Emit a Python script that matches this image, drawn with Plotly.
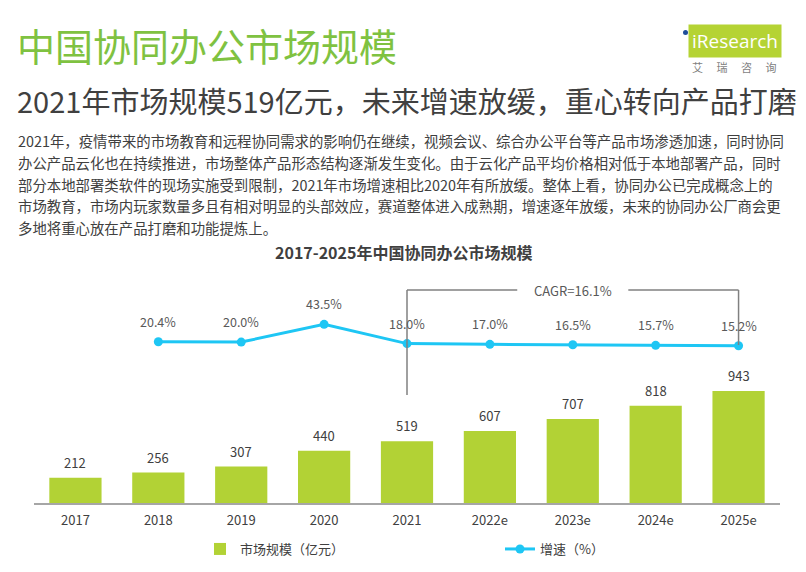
import plotly.graph_objects as go

# ---- data ----
years = ["2017", "2018", "2019", "2020", "2021", "2022e", "2023e", "2024e", "2025e"]
market_size = [212, 256, 307, 440, 519, 607, 707, 818, 943]          # 亿元
growth_years = ["2018", "2019", "2020", "2021", "2022e", "2023e", "2024e", "2025e"]
growth_rate = [20.4, 20.0, 43.5, 18.0, 17.0, 16.5, 15.7, 15.2]        # %
growth_labels = ["20.4%", "20.0%", "43.5%", "18.0%", "17.0%", "16.5%", "15.7%", "15.2%"]
cagr_text = "CAGR=16.1%"
cagr_from, cagr_to = "2021", "2025e"

title = "中国协同办公市场规模"
subtitle = "2021年市场规模519亿元，未来增速放缓，重心转向产品打磨"
body_lines = [
    "2021年，疫情带来的市场教育和远程协同需求的影响仍在继续，视频会议、综合办公平台等产品市场渗透加速，同时协同",
    "办公产品云化也在持续推进，市场整体产品形态结构逐渐发生变化。由于云化产品平均价格相对低于本地部署产品，同时",
    "部分本地部署类软件的现场实施受到限制，2021年市场增速相比2020年有所放缓。整体上看，协同办公已完成概念上的",
    "市场教育，市场内玩家数量多且有相对明显的头部效应，赛道整体进入成熟期，增速逐年放缓，未来的协同办公厂商会更",
    "多地将重心放在产品打磨和功能提炼上。",
]
chart_title = "2017-2025年中国协同办公市场规模"
bar_name = "市场规模（亿元）"
line_name = "增速（%）"

# ---- layout geometry (page has an 8px body margin) ----
OFF = 8
W, H = 806 - OFF, 572 - OFF
L, R, T, B = 34 - OFF, 780 - OFF, 260 - OFF, 503 - OFF
FONT = "Noto Sans CJK SC, Noto Sans, sans-serif"
BAR = "#b2d235"
LINE = "#1ec6f4"
DARK = "#404040"


def px(x):
    """screen x (reference pixels) -> paper fraction"""
    return (x - OFF - L) / (R - L)


def py(y):
    """screen y (reference pixels) -> paper fraction"""
    return (B - (y - OFF)) / (B - T)


fig = go.Figure()
fig.add_trace(go.Bar(
    x=years, y=market_size, name=bar_name, marker=dict(color=BAR, line=dict(width=0)),
    yaxis="y", cliponaxis=False,
))
fig.add_trace(go.Scatter(
    x=growth_years, y=growth_rate, name=line_name, mode="lines+markers",
    line=dict(color=LINE, width=3), marker=dict(color=LINE, size=9),
    yaxis="y2", cliponaxis=False,
))

annotations = []
# bar value labels (category index positions)
for yr, v in zip(years, market_size):
    annotations.append(dict(x=years.index(yr), y=v, xref="x", yref="y", text=str(v), showarrow=False,
                            xanchor="center", yanchor="bottom", yshift=4,
                            font=dict(size=13, color=DARK, family=FONT)))
# growth labels
for yr, v, t in zip(growth_years, growth_rate, growth_labels):
    annotations.append(dict(x=years.index(yr), y=v, xref="x", yref="y2", text=t, showarrow=False,
                            xanchor="center", yanchor="bottom", yshift=9,
                            font=dict(size=12.5, color="#595959", family=FONT)))

# CAGR bracket
i0, i1 = years.index(cagr_from), years.index(cagr_to)
imid = (i0 + i1) / 2
gap = 0.67
top_y = py(290)
shapes = [
    dict(type="line", xref="x", yref="paper", x0=i0, x1=i0, y0=py(395), y1=top_y,
         line=dict(color="#808080", width=1.5)),
    dict(type="line", xref="x", yref="paper", x0=i1, x1=i1, y0=py(345), y1=top_y,
         line=dict(color="#808080", width=1.5)),
    dict(type="line", xref="x", yref="paper", x0=i0, x1=imid - gap, y0=top_y, y1=top_y,
         line=dict(color="#808080", width=1.5)),
    dict(type="line", xref="x", yref="paper", x0=imid + gap, x1=i1, y0=top_y, y1=top_y,
         line=dict(color="#808080", width=1.5)),
]
annotations.append(dict(x=imid, y=top_y, xref="x", yref="paper", text=cagr_text, showarrow=False,
                        xanchor="center", yanchor="middle",
                        font=dict(size=13, color="#595959", family=FONT)))

# header texts
annotations.append(dict(x=px(15), y=py(45), xref="paper", yref="paper", text=title, showarrow=False,
                        xanchor="left", yanchor="middle", font=dict(size=38, color="#7fc241", family=FONT)))
annotations.append(dict(x=px(15), y=py(100), xref="paper", yref="paper", text=subtitle, showarrow=False,
                        xanchor="left", yanchor="middle", font=dict(size=29, color=DARK, family=FONT)))
for k, line in enumerate(body_lines):
    annotations.append(dict(x=px(16), y=py(141 + 21.5 * k), xref="paper", yref="paper", text=line,
                            showarrow=False, xanchor="left", yanchor="middle",
                            font=dict(size=14.4, color=DARK, family=FONT)))
annotations.append(dict(x=px(403), y=py(252), xref="paper", yref="paper", text="<b>" + chart_title + "</b>",
                        showarrow=False, xanchor="center", yanchor="middle",
                        font=dict(size=16, color=DARK, family=FONT)))

# logo
annotations.append(dict(x=px(735), y=py(41), xref="paper", yref="paper", text="iResearch", showarrow=False,
                        xanchor="center", yanchor="middle", bgcolor="#b5d334", borderpad=3,
                        font=dict(size=19, color="white", family="Open Sans, sans-serif")))
shapes.append(dict(type="circle", xref="paper", yref="paper", x0=px(683), x1=px(688), y0=py(35), y1=py(30),
                   fillcolor="#1f4e9a", line=dict(width=0)))
annotations.append(dict(x=px(734), y=py(67), xref="paper", yref="paper", text="艾　 瑞　 咨　 询",
                        showarrow=False, xanchor="center", yanchor="middle",
                        font=dict(size=11, color="#7f7f7f", family=FONT)))

fig.update_layout(
    width=W, height=H,
    margin=dict(l=L, r=W - R, t=T, b=H - B, pad=0, autoexpand=False),
    paper_bgcolor="white", plot_bgcolor="white",
    font=dict(family=FONT, color=DARK),
    bargap=0.37,
    showlegend=True,
    legend=dict(orientation="h", x=px(200), y=py(549), xanchor="left", yanchor="middle",
                font=dict(size=13, color=DARK, family=FONT), entrywidth=255, entrywidthmode="pixels",
                bgcolor="rgba(0,0,0,0)"),
    xaxis=dict(type="category", range=[-0.5, len(years) - 0.5], showline=True, linecolor="#a6a6a6",
               linewidth=1.5, ticks="", showgrid=False, zeroline=False, ticklabelstandoff=5,
               tickfont=dict(size=13, color=DARK, family=FONT), fixedrange=True),
    yaxis=dict(range=[0, (B - T) / 0.1188], visible=False, showgrid=False, fixedrange=True),
    yaxis2=dict(range=[-145.8 / 0.756, -145.8 / 0.756 + (B - T) / 0.756], overlaying="y", visible=False,
                showgrid=False, fixedrange=True),
    annotations=annotations,
    shapes=shapes,
)

fig.write_html("out.html")
